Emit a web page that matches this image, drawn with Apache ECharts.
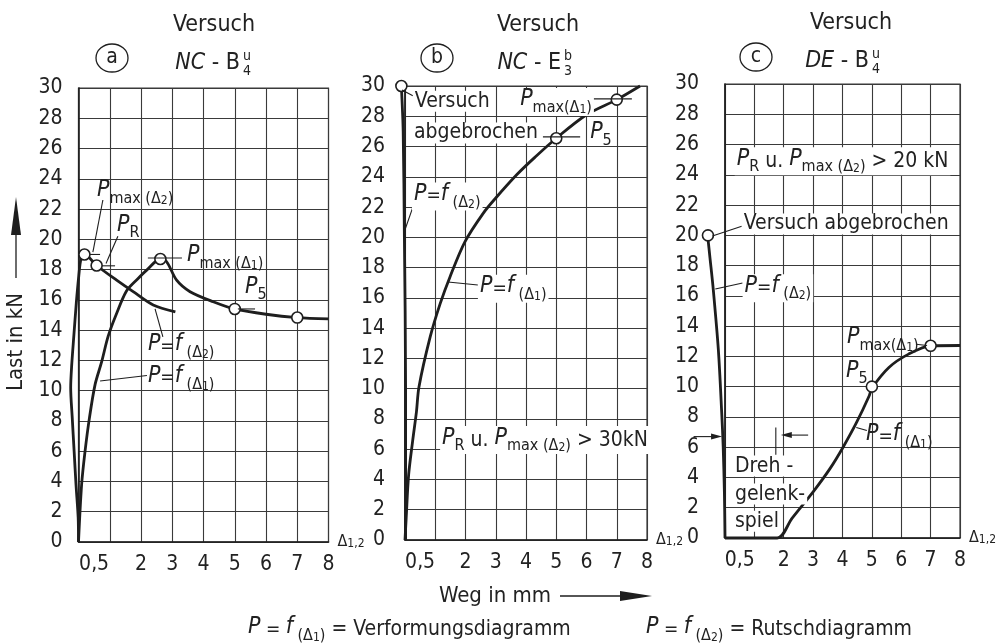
<!DOCTYPE html>
<html><head><meta charset="utf-8">
<script src="https://cdn.jsdelivr.net/npm/echarts@6/dist/echarts.min.js"></script>
<style>html,body{margin:0;padding:0;background:#fff}#c{width:999px;height:644px}</style>
</head><body><div id="c"></div>
<script>
const FONT = '"DejaVu Sans Condensed","Liberation Sans Narrow","DejaVu Sans",sans-serif';

// ---- data ----
const xLabelValues = [0.5, 2, 3, 4, 5, 6, 7, 8];
const panelLetters = ['a', 'b', 'c'];
// Panel a: Versuch NC-B4u
const aDelta2 = [[0,0],[-0.01,1.6],[-0.08,3.8],[-0.14,6],[-0.2,8.2],[-0.25,10.2],[-0.22,11.6],[-0.15,13.6],[-0.07,15.8],[0.01,17.6],[0.08,18.7],[0.19,19.0],[0.58,18.27],[1.22,17.3],[1.75,16.54],[2.39,15.66],[3.1,15.2]];
const aDelta1 = [[0,0],[0.1,3.8],[0.21,6],[0.35,8.2],[0.53,10.4],[0.74,11.9],[0.95,13.6],[1.2,15.0],[1.54,16.6],[1.9,17.4],[2.2,18.0],[2.62,18.7],[2.82,18.52],[3.14,17.3],[3.57,16.54],[4.31,15.88],[5,15.4],[6,15.05],[7,14.83],[8,14.74]];
const aMarks = [[0.19,19.0],[0.58,18.27],[2.62,18.7],[5,15.4],[7,14.83]];
// Panel b: Versuch NC-E3b
const bDelta2 = [[0.02,0],[0.02,10],[-0.02,20],[-0.06,27],[-0.12,30]];
const bDelta1 = [[0,0],[0.04,1.5],[0.12,4.3],[0.25,6.5],[0.38,8.5],[0.46,10.1],[0.83,13.4],[1.16,15.6],[1.49,17.4],[1.98,19.7],[2.59,21.6],[3.0,22.6],[3.7,24.15],[4.3,25.3],[5,26.55],[6,28.1],[7,29.1],[7.77,30]];
const bMarks = [[-0.12,30],[5,26.55],[7,29.1]];
// Panel c: Versuch DE-B4u
const cDelta2 = [[0,0],[-0.02,3],[-0.06,6],[-0.11,8.3],[-0.22,12.4],[-0.39,16.4],[-0.5,18.5],[-0.58,20]];
const cDelta1 = [[0,0],[1.78,0],[2.28,1.3],[3.02,3.1],[3.58,4.6],[4.02,6.0],[4.47,7.6],[4.91,9.4],[5,9.9],[5.58,11.27],[6.25,12.15],[7,12.7],[8,12.72]];
const cMarks = [[-0.58,20],[5,10],[7,12.7]];

// ---- layout ----
const INK = '#1e1e1e', GRIDC = '#3a3a3a', TXT = '#222';
const grids = [
  {left:78.5, top:88, width:250, height:454},
  {left:405, top:86, width:242, height:454},
  {left:725, top:84, width:240, height:454}
];
const yMargins = [16, 20, 26];
// hidden twin grids: same scale, axis extended one unit to the left so curves left of 0 are not clipped
const twins = grids.map(g => ({left:g.left - g.width / 8, top:g.top, width:g.width * 9 / 8, height:g.height, show:false}));

const chart = echarts.init(document.getElementById('c'));

function curve(data, i) {
  return {type:'line', xAxisIndex:i, yAxisIndex:i, data:data, showSymbol:false, smooth:0.3, clip:false,
    lineStyle:{color:INK, width:2.8}, z:5, silent:true};
}
function marks(data, i) {
  return {type:'scatter', xAxisIndex:i, yAxisIndex:i, data:data, symbol:'circle', symbolSize:11, clip:false,
    itemStyle:{color:'#fff', borderColor:INK, borderWidth:1.6, opacity:1}, z:10, silent:true};
}

const mainX = grids.map((g, i) => ({
  gridIndex:i, type:'value', min:0, max:8, interval:1,
  axisLine:{show:true, onZero:false, lineStyle:{color:INK, width:1.6}},
  axisTick:{show:false},
  splitLine:{show:true, lineStyle:{color:GRIDC, width:1.1}},
  axisLabel:{customValues:xLabelValues, formatter:v => String(v).replace('.', ','), margin:12, fontSize:21, color:TXT, fontFamily:FONT},
  name:'{d|Δ}{s|1,2}', nameLocation:'end', nameGap:9,
  nameTextStyle:{rich:{d:{fontSize:16, fontFamily:FONT, color:TXT}, s:{fontSize:12, fontFamily:FONT, color:TXT, verticalAlign:'bottom'}}}
}));
const mainY = grids.map((g, i) => ({
  gridIndex:i, type:'value', min:0, max:30, interval:2,
  axisLine:{show:true, onZero:false, lineStyle:{color:INK, width:1.6}},
  axisTick:{show:false},
  splitLine:{show:true, lineStyle:{color:GRIDC, width:1.1}},
  axisLabel:{margin:yMargins[i], fontSize:21, color:TXT, fontFamily:FONT}
}));
const twinX = twins.map((g, i) => ({gridIndex:3 + i, type:'value', min:-1, max:8, show:false, splitLine:{show:false}}));
const twinY = twins.map((g, i) => ({gridIndex:3 + i, type:'value', min:0, max:30, show:false, splitLine:{show:false}}));

chart.setOption({
  animation:false,
  backgroundColor:'#fff',
  textStyle:{fontFamily:FONT},
  grid: grids.map(g => Object.assign({show:true, borderColor:GRIDC, borderWidth:1.2, containLabel:false}, g)).concat(twins),
  xAxis: mainX.concat(twinX),
  yAxis: mainY.concat(twinY),
  series: [
    curve(aDelta2, 3), curve(aDelta1, 0), marks(aMarks, 0),
    curve(bDelta2, 4), curve(bDelta1, 1), marks(bMarks, 1),
    curve(cDelta2, 5), curve(cDelta1, 2), marks(cMarks, 2)
  ]
});

// ---- annotations ----
const RICH = {
  P:{fontSize:23, fontStyle:'italic', fontFamily:FONT, fill:TXT, padding:[0,0,5,0]},
  s:{fontSize:16, fontFamily:FONT, fill:TXT, verticalAlign:'bottom'},
  z:{fontSize:12, fontFamily:FONT, fill:TXT, verticalAlign:'bottom'},
  e:{fontSize:19, fontFamily:FONT, fill:TXT},
  n:{fontSize:21, fontFamily:FONT, fill:TXT},
  i:{fontSize:23, fontStyle:'italic', fontFamily:FONT, fill:TXT},
  m:{fontSize:23, fontFamily:FONT, fill:TXT}
};
const fD1 = '{P|P}{e|=}{P|f}{s| (Δ}{z|1}{s|)}';
const fD2 = '{P|P}{e|=}{P|f}{s| (Δ}{z|2}{s|)}';
const labels = [
  [0, [0.59,23.1], '{P|P}{s|max (Δ}{z|2}{s|)}', false],
  [0, [1.23,20.8], '{P|P}{s|R}', false],
  [0, [3.47,18.8], '{P|P}{s|max (Δ}{z|1}{s|)}', false],
  [0, [5.33,16.7], '{P|P}{s|5}', false],
  [0, [2.22,12.9], fD2, false],
  [0, [2.22,10.8], fD1, false],
  [1, [0.26,29.0], '{n|Versuch}', true],
  [1, [0.23,26.9], '{n|abgebrochen}', true],
  [1, [3.74,28.95], '{P|P}{s|max(Δ}{z|1}{s|)}', true],
  [1, [6.12,26.8], '{P|P}{s|5}', false],
  [1, [0.23,22.7], fD2, true],
  [1, [2.41,16.6], fD1, true],
  [1, [1.16,6.6], '{P|P}{s|R}{n| u. }{P|P}{s|max (Δ}{z|2}{s|)}{n| > 30kN}', true],
  [2, [0.33,24.9], '{P|P}{s|R}{n| u. }{P|P}{s|max (Δ}{z|2}{s|)}{n| > 20 kN}', true],
  [2, [0.57,20.75], '{n|Versuch abgebrochen}', true],
  [2, [0.6,16.5], fD2, true],
  [2, [4.15,13.1], '{P|P}{s|max(Δ}{z|1}{s|)}', false],
  [2, [4.12,10.9], '{P|P}{s|5}', false],
  [2, [4.8,6.7], fD1, false],
  [2, [0.27,4.75], '{n|Dreh -}', true],
  [2, [0.27,2.9], '{n|gelenk-}', true],
  [2, [0.27,1.1], '{n|spiel}', true]
];
const leaders = [
  [0, [0.78,22.6], [0.46,19.15]], [0, [0.37,19.0], [0.69,19.0]],
  [0, [1.26,20.2], [0.88,18.4]], [0, [0.75,18.25], [1.17,18.25]],
  [0, [2.22,18.77], [3.31,18.77]], [0, [5.1,15.4], [5.65,15.4]],
  [0, [2.7,13.55], [2.45,15.4]], [0, [2.19,11.0], [0.69,10.64]],
  [1, [-0.1,29.74], [0.26,29.35]], [1, [6.1,29.15], [7.5,29.15]],
  [1, [4.56,26.64], [5.79,26.64]], [1, [0.26,22.0], [0.0,20.5]],
  [1, [2.41,16.85], [1.42,17.05]],
  [2, [-0.43,19.96], [0.57,20.6]], [2, [0.6,16.85], [-0.33,16.45]],
  [2, [6.5,12.8], [6.88,12.72]], [2, [4.83,7.1], [4.47,7.3]],
  [2, [1.73,7.3], [1.73,5.5]]
];
const arrows = [
  [2, [-1.07,6.7], [-0.1,6.7]],
  [2, [2.83,6.8], [1.9,6.8]]
];

const P = (g, pt) => chart.convertToPixel({gridIndex:g}, pt);
const G = [];
labels.forEach(([g, pt, text, bg]) => {
  const p = P(g, pt);
  G.push({type:'text', x:p[0], y:p[1], z:20, style:{text:text, rich:RICH, fill:TXT, fontFamily:FONT, fontSize:21,
    align:'left', verticalAlign:'middle', backgroundColor: bg ? '#fff' : 'transparent', padding: bg ? [0,2,0,2] : 0}});
});
leaders.forEach(([g, a, b]) => {
  const p = P(g, a), q = P(g, b);
  G.push({type:'line', z:15, shape:{x1:p[0], y1:p[1], x2:q[0], y2:q[1]}, style:{stroke:INK, lineWidth:1.1}});
});
arrows.forEach(([g, a, b]) => {
  const p = P(g, a), q = P(g, b);
  const dir = Math.sign(q[0] - p[0]);
  G.push({type:'line', z:15, shape:{x1:p[0], y1:p[1], x2:q[0] - dir*8, y2:q[1]}, style:{stroke:INK, lineWidth:1.1}});
  G.push({type:'polygon', z:15, shape:{points:[[q[0], q[1]], [q[0]-dir*11, q[1]-3], [q[0]-dir*11, q[1]+3]]}, style:{fill:INK}});
});

// titles (page layout)
const titles = [
  {cx:214, cy:25, lx:240, letterX:112, letterY:58, pre:'{i|NC}{m| - B}', sup:'u', sub:'4'},
  {cx:538, cy:25, lx:561, letterX:437, letterY:58, pre:'{i|NC}{m| - E}', sup:'b', sub:'3'},
  {cx:851, cy:23, lx:869, letterX:756, letterY:57, pre:'{i|DE}{m| - B}', sup:'u', sub:'4'}
];
titles.forEach((t, i) => {
  G.push({type:'text', x:t.cx, y:t.cy, style:{text:'Versuch', fill:TXT, fontFamily:FONT, fontSize:23, align:'center', verticalAlign:'middle'}});
  G.push({type:'text', x:t.lx, y:t.cy + 38, style:{text:t.pre, rich:RICH, fill:TXT, fontFamily:FONT, fontSize:23, align:'right', verticalAlign:'middle'}});
  G.push({type:'text', x:t.lx + 3, y:t.cy + 31, style:{text:t.sup, fill:TXT, fontFamily:FONT, fontSize:14, align:'left', verticalAlign:'middle'}});
  G.push({type:'text', x:t.lx + 3, y:t.cy + 46, style:{text:t.sub, fill:TXT, fontFamily:FONT, fontSize:14, align:'left', verticalAlign:'middle'}});
  G.push({type:'ellipse', shape:{cx:t.letterX, cy:t.letterY, rx:16, ry:14}, style:{fill:'none', stroke:INK, lineWidth:1.3}});
  G.push({type:'text', x:t.letterX, y:t.letterY, style:{text:panelLetters[i], fill:TXT, fontFamily:FONT, fontSize:21, align:'center', verticalAlign:'middle'}});
});
// axis titles
G.push({type:'text', x:16, y:342, rotation:Math.PI/2, style:{text:'Last in kN', fill:TXT, fontFamily:FONT, fontSize:22, align:'center', verticalAlign:'middle'}});
G.push({type:'line', shape:{x1:16, y1:232, x2:16, y2:278}, style:{stroke:INK, lineWidth:1.3}});
G.push({type:'polygon', shape:{points:[[16,197],[11,235],[21,235]]}, style:{fill:INK}});
G.push({type:'text', x:495, y:596, style:{text:'Weg in mm', fill:TXT, fontFamily:FONT, fontSize:22, align:'center', verticalAlign:'middle'}});
G.push({type:'line', shape:{x1:560, y1:596, x2:625, y2:596}, style:{stroke:INK, lineWidth:1.3}});
G.push({type:'polygon', shape:{points:[[652,596],[620,591],[620,601]]}, style:{fill:INK}});
// footnotes
G.push({type:'text', x:248, y:630, style:{text:'{P|P}{e| = }{P|f}{s| (Δ}{z|1}{s|)}{n| = Verformungsdiagramm}', rich:RICH, fill:TXT, fontFamily:FONT, fontSize:21, align:'left', verticalAlign:'middle'}});
G.push({type:'text', x:646, y:630, style:{text:'{P|P}{e| = }{P|f}{s| (Δ}{z|2}{s|)}{n| = Rutschdiagramm}', rich:RICH, fill:TXT, fontFamily:FONT, fontSize:21, align:'left', verticalAlign:'middle'}});

chart.setOption({graphic:{elements:G}});
</script>
</body></html>
